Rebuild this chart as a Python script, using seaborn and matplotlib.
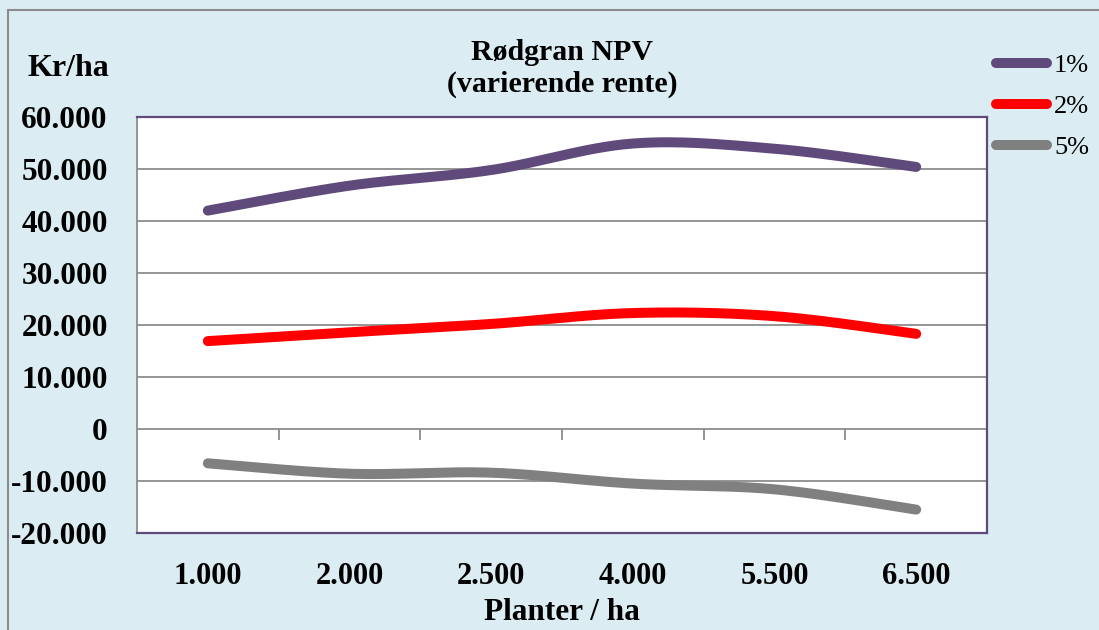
import numpy as np
import pandas as pd
import seaborn as sns
import matplotlib.pyplot as plt
from matplotlib.patches import Rectangle

# data
planter = ["1.000", "2.000", "2.500", "4.000", "5.500", "6.500"]
rente_1 = [42000, 46800, 49800, 54900, 53900, 50400]
rente_2 = [16900, 18600, 20200, 22300, 21700, 18300]
rente_5 = [-6600, -8600, -8400, -10500, -11600, -15500]
serier = ["1%", "2%", "5%"]
farver = ["#604A7B", "#FF0000", "#808080"]
y_ticks = [-20000, -10000, 0, 10000, 20000, 30000, 40000, 50000, 60000]


def smooth(values, n=30):
    # Excel-style "smoothed line": Catmull-Rom bezier through the points
    y = np.asarray(values, dtype=float)
    x = np.arange(len(y), dtype=float)
    px = np.concatenate([[x[0]], x, [x[-1]]])
    py = np.concatenate([[y[0]], y, [y[-1]]])
    xs, ys = [], []
    for i in range(1, len(px) - 2):
        p0 = np.array([px[i], py[i]])
        p3 = np.array([px[i + 1], py[i + 1]])
        c1 = p0 + (np.array([px[i + 1], py[i + 1]]) - np.array([px[i - 1], py[i - 1]])) / 6
        c2 = p3 - (np.array([px[i + 2], py[i + 2]]) - np.array([px[i], py[i]])) / 6
        t = np.linspace(0, 1, n, endpoint=(i == len(px) - 3))[:, None]
        pts = ((1 - t) ** 3) * p0 + 3 * ((1 - t) ** 2) * t * c1 + 3 * (1 - t) * t ** 2 * c2 + t ** 3 * p3
        xs.extend(pts[:, 0])
        ys.extend(pts[:, 1])
    return xs, ys


rows = []
for navn, vals in zip(serier, [rente_1, rente_2, rente_5]):
    xs, ys = smooth(vals)
    rows.append(pd.DataFrame({"x": xs, "npv": ys, "rente": navn}))
df = pd.concat(rows, ignore_index=True)

sns.set_style("white")
plt.rcParams['font.family'] = ['Liberation Serif', 'DejaVu Serif']
plt.rcParams['text.color'] = 'black'
plt.rcParams['xtick.color'] = 'black'
plt.rcParams['ytick.color'] = 'black'

bg = "#DBEDF3"
fig = plt.figure(figsize=(10.99, 6.30), dpi=100, facecolor=bg)
fig.patches.append(Rectangle((8 / 1099, -0.1), 1.2, (620 / 630) + 0.1, transform=fig.transFigure,
                             facecolor="none", edgecolor="#8C8C8C", linewidth=1.5))
ax = fig.add_axes([137 / 1099, 97 / 630, 850 / 1099, 416 / 630])
ax.set_facecolor("white")

sns.lineplot(data=df, x="x", y="npv", hue="rente", palette=farver, linewidth=7.2,
             solid_capstyle="round", sort=False, estimator=None, ax=ax)

ax.set_xlim(-0.5, len(planter) - 0.5)
ax.set_ylim(-20000, 60000)
ax.set_yticks(y_ticks)
ax.set_yticklabels([f"{v:,}".replace(",", ".") for v in y_ticks])
ax.set_xticks(range(len(planter)))
ax.set_xticklabels(planter)
ax.yaxis.grid(True, color="#8C8C8C", linewidth=1.3)
ax.set_axisbelow(True)
ax.tick_params(axis="x", length=0, pad=21, labelsize=22)
ax.tick_params(axis="y", length=8, width=1.3, color="#8C8C8C", direction="out", pad=13, labelsize=22.5)
for lab in ax.get_xticklabels() + ax.get_yticklabels():
    lab.set_fontweight("bold")

for side in ["top", "right", "bottom"]:
    ax.spines[side].set_color("#604A7B")
    ax.spines[side].set_linewidth(1.6)
ax.spines["left"].set_color("#8C8C8C")
ax.spines["left"].set_linewidth(1.3)

# category tick marks on the zero line
sec = ax.secondary_xaxis(0.25)
sec.set_xticks([i + 0.5 for i in range(len(planter))])
sec.set_xticklabels([])
sec.tick_params(axis="x", length=8, width=1.3, color="#8C8C8C", direction="out")
sec.spines["bottom"].set_visible(False)

ax.set_xlabel("")
ax.set_ylabel("")
ax.set_title("Rødgran NPV\n(varierende rente)", fontsize=21.5, fontweight="bold", pad=18, linespacing=1.25)
fig.text(562 / 1099, 1 - 612 / 630, "Planter / ha", ha="center", va="center", fontsize=22.5, fontweight="bold")
fig.text(68 / 1099, 1 - 68 / 630, "Kr/ha", ha="center", va="center", fontsize=23, fontweight="bold")

handles, labels = ax.get_legend_handles_labels()
ax.legend(handles, labels, loc="upper left", bbox_to_anchor=(996 / 1099, 1 - 54 / 630),
          bbox_transform=fig.transFigure, frameon=False, fontsize=19, handlelength=1.95,
          handletextpad=0.25, labelspacing=0.66, borderaxespad=0, borderpad=0)

fig.savefig("out.png", dpi=100, facecolor=bg)
